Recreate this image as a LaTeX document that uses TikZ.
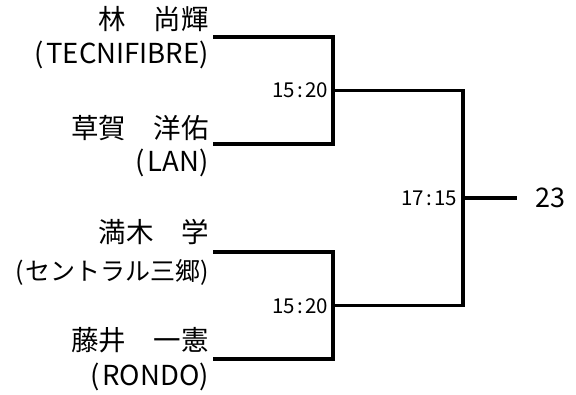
\documentclass[tikz,border=0pt]{standalone}
\usepackage{fontspec}
\newfontfamily\jp{Noto Sans CJK JP}
\newcommand\clnsep{\hspace{2pt}:\hspace{2pt}}
\newcommand\tm[1]{(\hspace{3pt}#1)}
\begin{document}
\begin{tikzpicture}[x=1pt,y=-1pt,
  namelbl/.style={anchor=east, inner sep=0pt, font=\jp\fontsize{27.5}{28}\selectfont},
  scorelbl/.style={anchor=east, inner sep=0pt, font=\jp\fontsize{20.5}{21}\selectfont},
  wire/.style={line width=3.2pt, line join=miter}]
\useasboundingbox (0,0) rectangle (576,394);
% names
\node[namelbl] (n1) at (209,19) {林　尚輝};
\node[namelbl] (t1) at (209,55) {\tm{TECNIFIBRE}};
\node[namelbl] (n2) at (209,128) {草賀　洋佑};
\node[namelbl] (t2) at (209,163) {\tm{LAN}};
\node[namelbl] (n3) at (209,232) {満木　学};
\node[namelbl, font=\jp\fontsize{25}{26}\selectfont] (t3) at (209,272) {(\hspace{1pt}セントラル三郷)};
\node[namelbl] (n4) at (209,340) {藤井　一憲};
\node[namelbl] (t4) at (209,377) {\tm{RONDO}};
% bracket ends
\coordinate (a1) at (213,37);
\coordinate (a2) at (213,144);
\coordinate (a3) at (213,252);
\coordinate (a4) at (213,359);
\coordinate (m1) at (333,90.5);
\coordinate (m2) at (333,305.5);
\coordinate (f) at (463,198);
% scores
\node[scorelbl] (s1) at (328,90) {15\clnsep20};
\node[scorelbl] (s2) at (328,306) {15\clnsep20};
\node[scorelbl] (s3) at (457,198) {17\clnsep15};
\node[anchor=west, inner sep=0pt, font=\jp\fontsize{27}{27}\selectfont] (w) at (535,198) {23};
% connectors
\draw[wire] (a1) -| (m1) |- (a2);
\draw[wire] (a3) -| (m2) |- (a4);
\draw[wire] (m1) -| (f) |- (m2);
\draw[wire] (f) -- ([xshift=-18pt]w.west);
\end{tikzpicture}
\end{document}
